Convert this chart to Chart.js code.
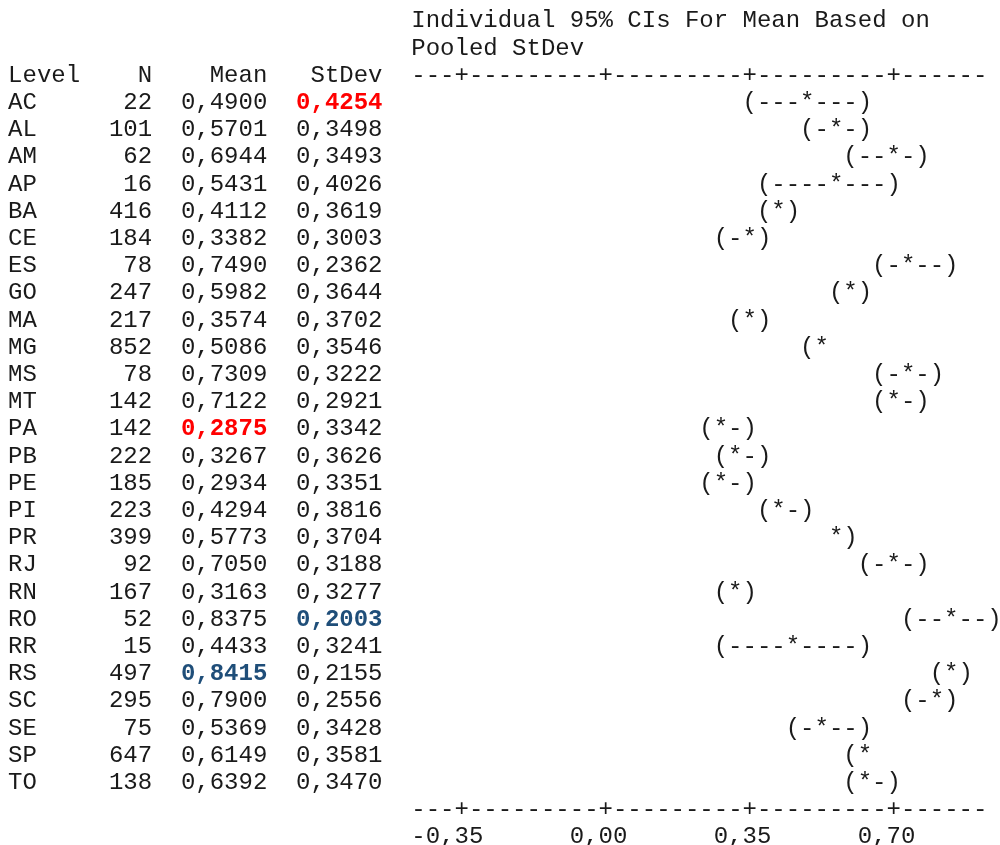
<!DOCTYPE html>
<html>
<head>
<meta charset="utf-8">
<script src="https://cdn.jsdelivr.net/npm/chart.js@4.4.1/dist/chart.umd.min.js"></script>
<style>
html,body{margin:0;padding:0;background:#ffffff;}
#wrap{width:1000px;height:845px;position:relative;overflow:hidden;}
canvas{display:block;}
</style>
</head>
<body>
<div id="wrap"><canvas id="c" width="1000" height="845"></canvas></div>
<script>
// ---- data ----
const levels  = ['AC','AL','AM','AP','BA','CE','ES','GO','MA','MG','MS','MT','PA','PB','PE','PI','PR','RJ','RN','RO','RR','RS','SC','SE','SP','TO'];
const counts  = [22,101,62,16,416,184,78,247,217,852,78,142,142,222,185,223,399,92,167,52,15,497,295,75,647,138];
const means   = [0.4900,0.5701,0.6944,0.5431,0.4112,0.3382,0.7490,0.5982,0.3574,0.5086,0.7309,0.7122,0.2875,0.3267,0.2934,0.4294,0.5773,0.7050,0.3163,0.8375,0.4433,0.8415,0.7900,0.5369,0.6149,0.6392];
const stdevs  = [0.4254,0.3498,0.3493,0.4026,0.3619,0.3003,0.2362,0.3644,0.3702,0.3546,0.3222,0.2921,0.3342,0.3626,0.3351,0.3816,0.3704,0.3188,0.3277,0.2003,0.3241,0.2155,0.2556,0.3428,0.3581,0.3470];
// CI bounds estimated from the positions of "(" and ")" in the picture
const ciLower = [0.348,0.504,0.610,0.377,0.379,0.289,0.674,0.556,0.312,0.485,0.656,0.656,0.232,0.282,0.244,0.385,0.544,0.636,0.265,0.745,0.271,0.812,0.751,0.460,0.589,0.583];
const ciUpper = [0.632,0.636,0.779,0.710,0.444,0.387,0.825,0.641,0.402,0.532,0.806,0.768,0.343,0.371,0.342,0.474,0.611,0.775,0.367,0.930,0.615,0.871,0.829,0.614,0.641,0.696];
const tickValues = [-0.35, 0.00, 0.35, 0.70];
const tickLabels = ['-0,35', '0,00', '0,35', '0,70'];
const titleLines = ['Individual 95% CIs For Mean Based on', 'Pooled StDev'];
const headers = ['Level', 'N', 'Mean', 'StDev'];
// highlighted cells: [level, column, colour]
const highlights = [['AC','StDev','#ff0000'],['PA','Mean','#ff0000'],['RO','StDev','#1f4e79'],['RS','Mean','#1f4e79']];

const FONT = '24px "Liberation Mono", "Courier New", monospace';
const BOLD = 'bold 24px "Liberation Mono", "Courier New", monospace';
const INK = '#1a1a1a';

const fmt = v => v.toFixed(4).replace('.', ',');

const textPlugin = {
  id: 'minitabText',
  afterDraw(chart) {
    const ctx = chart.ctx;
    const xs = chart.scales.x, ys = chart.scales.y;
    const left = chart.chartArea.left, right = chart.chartArea.right;
    const ncol = 40;
    const w = (right - left) / ncol;
    const step = ys.getPixelForValue(1) - ys.getPixelForValue(0);
    const base0 = ys.getPixelForValue(0) + 8;
    const lineBase = k => base0 + (k - 3) * step;
    const tableLeft = left - 28 * w;
    const colOf = v => Math.round((xs.getPixelForValue(v) - left) / w - 0.5);
    const cellX = c => left + c * w;

    ctx.save();
    ctx.textBaseline = 'alphabetic';
    ctx.fillStyle = INK;
    ctx.font = FONT;

    // title
    ctx.textAlign = 'left';
    titleLines.forEach((t, k) => ctx.fillText(t, left, lineBase(k)));

    // table header
    const colEnd = [null, 9, 17, 25];
    ctx.textAlign = 'left';
    ctx.fillText(headers[0], tableLeft, lineBase(2));
    ctx.textAlign = 'right';
    for (let j = 1; j < 4; j++) ctx.fillText(headers[j], tableLeft + (colEnd[j] + 1) * w, lineBase(2));

    // axis lines
    const axisStr = () => {
      const a = new Array(ncol).fill('-');
      tickValues.forEach(t => { const c = colOf(t); if (c >= 0 && c < ncol) a[c] = '+'; });
      return a.join('');
    };
    ctx.textAlign = 'left';
    ctx.fillText(axisStr(), left, lineBase(2));
    ctx.fillText(axisStr(), left, lineBase(29));

    // tick labels
    ctx.textAlign = 'right';
    tickValues.forEach((t, i) => ctx.fillText(tickLabels[i], cellX(colOf(t) + 2), lineBase(30)));

    // rows
    levels.forEach((lv, i) => {
      const y = ys.getPixelForValue(i) + 8;
      const vals = [lv, String(counts[i]), fmt(means[i]), fmt(stdevs[i])];
      const names = headers;
      for (let j = 0; j < 4; j++) {
        const h = highlights.find(hh => hh[0] === lv && hh[1] === names[j]);
        ctx.font = h ? BOLD : FONT;
        ctx.fillStyle = h ? h[2] : INK;
        if (j === 0) { ctx.textAlign = 'left'; ctx.fillText(vals[j], tableLeft, y); }
        else { ctx.textAlign = 'right'; ctx.fillText(vals[j], tableLeft + (colEnd[j] + 1) * w, y); }
      }
      ctx.font = FONT;
      ctx.fillStyle = INK;
      ctx.textAlign = 'left';
      const cells = new Array(ncol + 1).fill(' ');
      const lo = colOf(ciLower[i]), hi = colOf(ciUpper[i]), m = colOf(means[i]);
      for (let c = lo + 1; c < hi; c++) cells[c] = '-';
      cells[lo] = '(';
      cells[hi] = ')';
      cells[m] = '*';
      cells.forEach((ch, c) => { if (ch !== ' ') ctx.fillText(ch, cellX(c), y); });
    });
    ctx.restore();
  }
};

new Chart(document.getElementById('c'), {
  type: 'scatter',
  data: {
    labels: levels,
    datasets: [{
      label: 'Mean',
      data: levels.map((lv, i) => ({ x: means[i], y: lv })),
      pointRadius: 0,
      pointHoverRadius: 0,
      showLine: false
    }]
  },
  options: {
    responsive: false,
    animation: false,
    devicePixelRatio: 1,
    events: [],
    layout: { padding: { left: 411.3, right: 12.7, top: 87.3, bottom: 50.5 } },
    plugins: { legend: { display: false }, tooltip: { enabled: false }, title: { display: false } },
    scales: {
      x: { type: 'linear', min: -0.4725, max: 0.9275, display: false },
      y: { type: 'category', labels: levels, offset: true, display: false }
    }
  },
  plugins: [textPlugin]
});
</script>
</body>
</html>
